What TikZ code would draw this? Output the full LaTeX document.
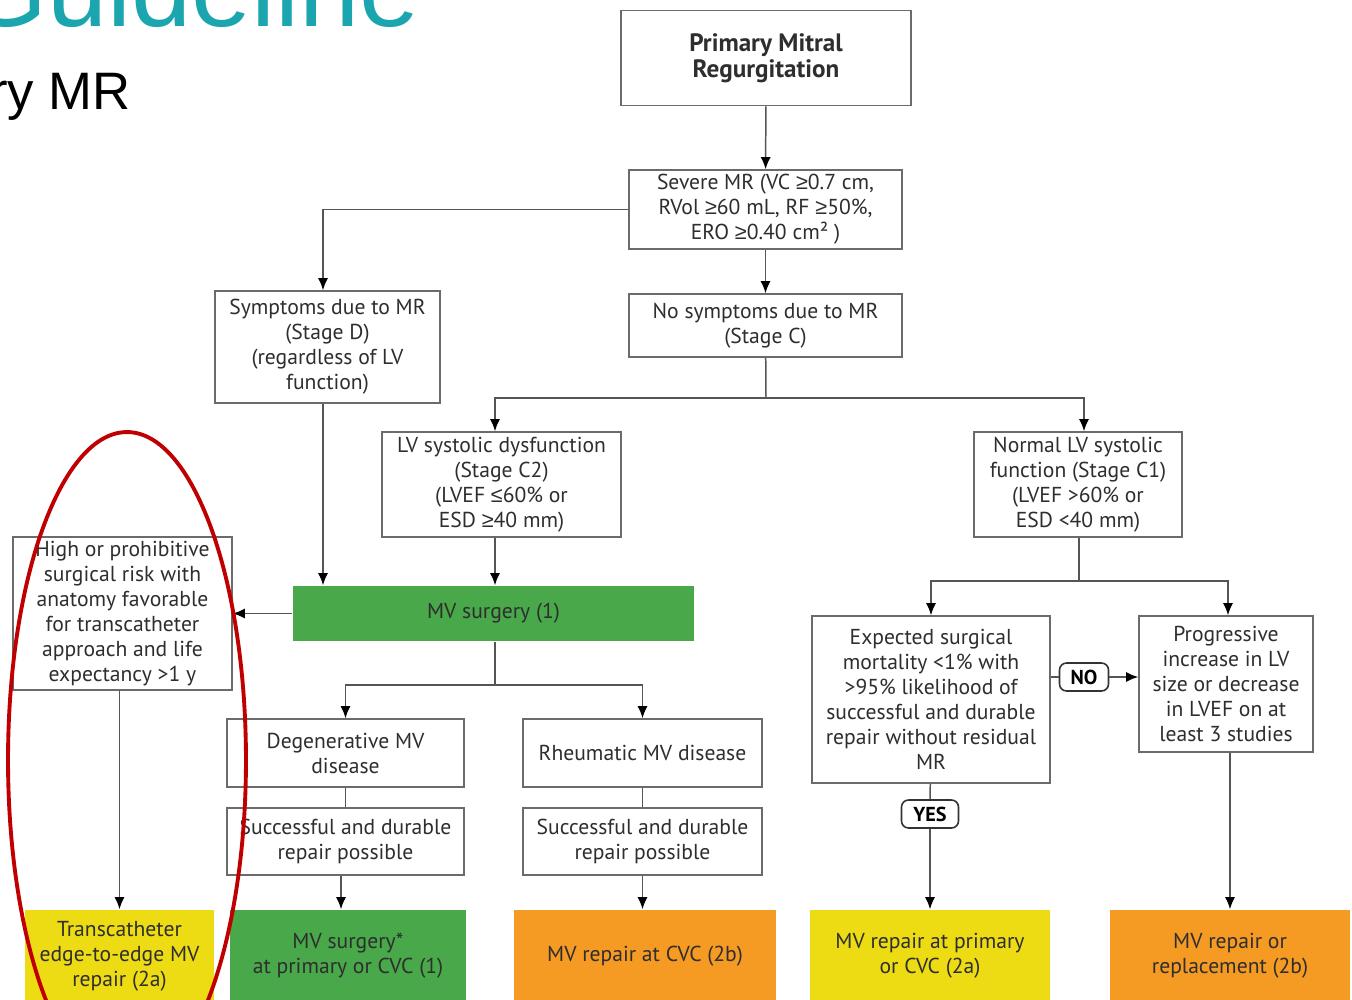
\documentclass[tikz,border=0pt]{standalone}
\usepackage{fontspec}
\usetikzlibrary{arrows.meta, positioning, shapes}
\setmainfont{PT Sans}
\newfontfamily\slidefont{Liberation Sans}
\newfontfamily\symfont{Liberation Sans}
\definecolor{boxline}{HTML}{6B6B6B}
\definecolor{linkgray}{HTML}{555555}
\definecolor{txtgray}{HTML}{2E2E2E}
\definecolor{surggreen}{HTML}{48A84A}
\definecolor{cvcorange}{HTML}{F59A23}
\definecolor{repyellow}{HTML}{EDDC14}
\definecolor{titleteal}{HTML}{1BA5AE}
\definecolor{circred}{HTML}{C00000}
\tikzstyle{block} = [draw=boxline, line width=0.9pt, fill=white, rectangle,
    align=center, inner sep=0pt, text=txtgray,
    font=\fontsize{12.3}{14.2}\selectfont]
\tikzstyle{result} = [block, draw=none]
\tikzstyle{answer} = [draw=black!80, line width=0.9pt, rounded corners=4pt,
    fill=white, text=black, inner sep=0pt, minimum height=0.56cm,
    font=\bfseries\fontsize{11.5}{13}\selectfont]
\tikzstyle{link} = [draw=linkgray, line width=0.85pt]
\newcommand{\geqsym}{{\symfont ≥}}
\newcommand{\leqsym}{{\symfont ≤}}

\begin{document}
\begin{tikzpicture}[x=0.02cm, y=-0.02cm, >={Latex[length=2.4mm,width=2mm,color=black]}]
    \useasboundingbox (0,0) rectangle (1352,1000);
    \clip (0,0) rectangle (1352,1000);
    \fill[white] (0,0) rectangle (1352,1000);

    % slide title, cut by the frame
    \node [anchor=base east, inner sep=0pt, text=titleteal,
        font=\slidefont\fontsize{61.5}{66}\selectfont] (title) at (420,27) {Guideline};
    \node [anchor=base east, inner sep=0pt,
        font=\slidefont\fontsize{30}{34}\selectfont] (subtitle) at (131,110) {ry MR};

    % decision boxes
    \node [block, minimum width=5.8cm, minimum height=1.9cm, font=\bfseries\fontsize{14.3}{14.8}\selectfont]
        (primary) at (766,58) {Primary Mitral\\Regurgitation};
    \node [block, minimum width=5.46cm, minimum height=1.58cm] (severe) at (765.5,209.5)
        {Severe MR (VC \geqsym0.7 cm,\\RVol \geqsym60 mL, RF \geqsym50\%,\\ERO \geqsym0.40 cm² )};
    \node [block, minimum width=4.5cm, minimum height=2.24cm] (sympt) at (327.5,347)
        {Symptoms due to MR\\(Stage D)\\(regardless of LV\\function)};
    \node [block, minimum width=5.46cm, minimum height=1.26cm] (nosympt) at (765.5,325.5)
        {No symptoms due to MR\\(Stage C)};
    \node [block, minimum width=4.78cm, minimum height=2.1cm] (lvdys) at (501.5,484.5)
        {LV systolic dysfunction\\(Stage C2)\\(LVEF \leqsym60\% or\\ESD \geqsym40 mm)};
    \node [block, minimum width=4.16cm, minimum height=2.1cm] (lvnorm) at (1078,484.5)
        {Normal LV systolic\\function (Stage C1)\\(LVEF >60\% or\\ESD <40 mm)};
    \node [block, minimum width=4.38cm, minimum height=3.06cm] (highrisk) at (122.5,613.5)
        {High or prohibitive\\surgical risk with\\anatomy favorable\\for transcatheter\\approach and life\\expectancy >1 y};
    \node [result, fill=surggreen, minimum width=8.02cm, minimum height=1.1cm] (mvsurg) at (493.5,613.5)
        {MV surgery (1)};
    \node [block, minimum width=4.74cm, minimum height=1.36cm] (degen) at (345.5,753)
        {Degenerative MV\\disease};
    \node [block, minimum width=4.78cm, minimum height=1.36cm] (rheum) at (642.5,753)
        {Rheumatic MV disease};
    \node [block, minimum width=4.74cm, minimum height=1.34cm] (degenok) at (345.5,841.5)
        {Successful and durable\\repair possible};
    \node [block, minimum width=4.78cm, minimum height=1.34cm] (rheumok) at (642.5,841.5)
        {Successful and durable\\repair possible};
    \node [block, minimum width=4.76cm, minimum height=3.34cm] (lowrisk) at (931,699.5)
        {Expected surgical\\mortality <1\% with\\>95\% likelihood of\\successful and durable\\repair without residual\\MR};
    \node [block, minimum width=3.48cm, minimum height=2.72cm] (progress) at (1226,684)
        {Progressive\\increase in LV\\size or decrease\\in LVEF on at\\least 3 studies};
    \node [answer, minimum width=0.98cm] (no) at (1084,677) {NO};
    \node [answer, minimum width=1.14cm] (yes) at (930,814) {YES};

    % recommendations
    \node [result, fill=repyellow, minimum width=3.78cm, minimum height=1.84cm] (teer) at (119.5,956)
        {Transcatheter\\edge-to-edge MV\\repair (2a)};
    \node [result, fill=surggreen, minimum width=4.72cm, minimum height=1.84cm] (mvstar) at (348,956)
        {MV surgery*\\at primary or CVC (1)};
    \node [result, fill=cvcorange, minimum width=5.24cm, minimum height=1.84cm] (cvcrep) at (645,956)
        {MV repair at CVC (2b)};
    \node [result, fill=repyellow, minimum width=4.8cm, minimum height=1.84cm] (primrep) at (930,956)
        {MV repair at primary\\or CVC (2a)};
    \node [result, fill=cvcorange, minimum width=4.8cm, minimum height=1.84cm] (replace) at (1230,956)
        {MV repair or\\replacement (2b)};

    % connectors
    \coordinate (split1) at (766,398);
    \coordinate (split2) at (495,685);
    \coordinate (split3) at (1079,581);
    \draw [link,->] (primary) -- (severe);
    \draw [link,->] (severe) -- (nosympt);
    \draw [link,->] (severe.west) -| ([xshift=-0.09cm]sympt.north);
    \draw [link] (nosympt) -- (split1);
    \draw [link,->] (split1) -| ([xshift=-0.13cm]lvdys.north);
    \draw [link,->] (split1) -| ([xshift=0.12cm]lvnorm.north);
    \draw [link,->] ([xshift=-0.09cm]sympt.south) -- ([xshift=-0.09cm]sympt.south |- mvsurg.north);
    \draw [link,->] ([xshift=-0.13cm]lvdys.south) -- ([xshift=-0.13cm]lvdys.south |- mvsurg.north);
    \draw [link,->] (mvsurg) -- (highrisk);
    \draw [link] (split2 |- mvsurg.south) -- (split2);
    \draw [link,->] (split2) -| (degen);
    \draw [link,->] (split2) -| (rheum);
    \draw [link] (degen) -- (degenok);
    \draw [link] (rheum) -- (rheumok);
    \draw [link,->] ([xshift=-0.09cm]degenok.south) -- ([xshift=-0.09cm]degenok.south |- mvstar.north);
    \draw [link,->] (rheumok) -- (rheumok |- cvcrep.north);
    \draw [link,->] ([xshift=-0.06cm]highrisk.south) -- ([xshift=-0.06cm]highrisk.south |- teer.north);
    \draw [link] (lvnorm.south -| split3) -- (split3);
    \draw [link,->] (split3) -| (lowrisk);
    \draw [link,->] (split3) -| ([xshift=0.04cm]progress.north);
    \draw [link] (lowrisk.east |- no) -- (no);
    \draw [link,->] (no) -- (progress.west |- no);
    \draw [link] (lowrisk) -- (yes);
    \draw [link,->] (yes) -- (primrep);
    \draw [link,->] ([xshift=0.08cm]progress.south) -- ([xshift=0.08cm]progress.south |- replace.north);

    % highlight
    \draw [circred, line width=2.2pt] (127,760) ellipse [x radius=2.38cm, y radius=6.56cm];
\end{tikzpicture}
\end{document}
